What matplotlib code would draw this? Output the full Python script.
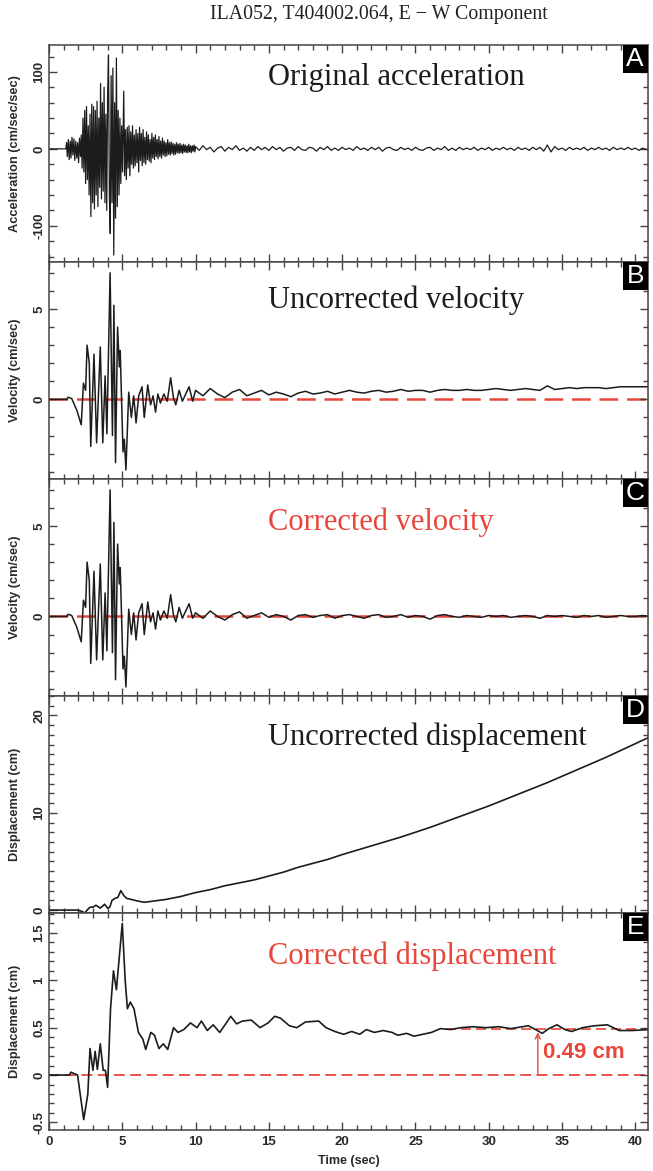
import numpy as np
import matplotlib
matplotlib.use("Agg")
import matplotlib.pyplot as plt
from matplotlib.ticker import MultipleLocator, FuncFormatter
from matplotlib.patches import Rectangle

plt.rcParams['axes.unicode_minus'] = False

# ---------------- data ----------------
title = "ILA052, T404002.064, E \u2212 W Component"
panel_titles = ["Original acceleration", "Uncorrected velocity", "Corrected velocity",
                "Uncorrected displacement", "Corrected displacement"]
panel_letters = ["A", "B", "C", "D", "E"]
ylabels = ["Acceleration (cm/sec/sec)", "Velocity (cm/sec)", "Velocity (cm/sec)",
           "Displacement (cm)", "Displacement (cm)"]
xlabel = "Time (sec)"
offset_label = "0.49 cm"
offset_value = 0.49

# acceleration, strong-motion part (sec, cm/s^2)
acc_t_early = [0, 1.15, 1.2, 1.25, 1.32, 1.38, 1.45, 1.5, 1.57, 1.63, 1.7, 1.76, 1.83, 1.9, 1.96,
               2.02, 2.08, 2.15, 2.2, 2.26, 2.32, 2.38, 2.44, 2.5, 2.56, 2.62, 2.68, 2.74, 2.8,
               2.86, 2.92, 2.98, 3.04, 3.1, 3.16, 3.22, 3.28, 3.34, 3.4, 3.46, 3.52, 3.58, 3.64,
               3.7, 3.76, 3.82, 3.88, 3.94, 4.0, 4.06, 4.12, 4.18, 4.24, 4.3, 4.36, 4.42, 4.48,
               4.54, 4.6, 4.66, 4.72, 4.78, 4.84, 4.9, 4.96, 5.02, 5.1, 5.16, 5.22, 5.28, 5.34,
               5.4, 5.46, 5.52, 5.58, 5.64, 5.7, 5.76, 5.82, 5.88, 5.94, 6.0, 6.06, 6.12, 6.18,
               6.24, 6.3, 6.36, 6.42, 6.48, 6.54, 6.6, 6.66, 6.72, 6.78, 6.84, 6.9, 6.96, 7.02,
               7.08, 7.14, 7.2, 7.26, 7.32, 7.38, 7.44, 7.5, 7.56, 7.62, 7.68, 7.74, 7.8, 7.86,
               7.92, 7.98, 8.04, 8.1, 8.16, 8.22, 8.28, 8.34, 8.4, 8.46, 8.52, 8.58, 8.64, 8.7,
               8.76, 8.82, 8.88, 8.94, 9.0, 9.06, 9.12, 9.18, 9.24, 9.3, 9.36, 9.42, 9.48, 9.54,
               9.6, 9.66, 9.72, 9.78, 9.84, 9.9, 9.96]
acc_early = [0, 0, 8, -10, 12, -14, 10, -12, 15, -8, 13, -15, 10, -12, 8,
             -18, 14, -10, 18, -25, 40, -30, 50, -45, 55, -40, 30, -60, 45,
             -88, 58, -70, 55, -78, 50, -60, 62, -75, 40, -50, 85, -65, 60,
             -55, 80, -70, 45, -80, 70, 122, -60, -110, 95, -70, 105, -138, 60,
             -90, 118, -75, 50, -60, 40, -45, 30, -30, 75, -35, 25, -40, 28,
             -25, 30, -35, 22, -20, 30, -25, 18, -22, 25, -18, 20, -30, 28,
             -15, 20, -22, 25, -18, 15, -20, 22, -14, 18, -16, 12, -18, 20,
             -12, 15, -14, 18, -10, 12, -13, 16, -10, 10, -12, 14, -8, 10,
             -10, 8, -9, 12, -7, 8, -8, 9, -6, 7, -8, 6, -7, 8,
             -5, 6, -6, 7, -5, 5, -6, 6, -4, 5, -5, 4, -5, 6,
             -4, 4, -5, 4, -3, 5, -4]
# acceleration coda, sampled every 0.25 s from 10 s to 41 s
acc_late = [3, -2, 4, -1, 2, -4, 1, 3, -3, 2, -1, 4, -2, 1, -3, 2, -2, 3, -1, 2,
            -2, 3, -1, 2, -3, 1, 2, -2, 3, -1, -2, 2, 1, -3, 2, -1, 3, -2, 1, -2,
            2, -1, 1, -2, 3, -1, 1, -2, 2, -1, 2, -3, 1, 2, -1, -2, 2, -1, 1, -2,
            2, -1, -2, 1, 2, -2, 1, -1, 3, -2, 1, -2, 2, -1, 1, -1, 2, -2, 1, -1,
            2, -2, 1, -1, 2, -1, 1, -2, 2, -1, 1, -2, 2, -1, 2, -3, 5, -4, 3, -1,
            1, -2, 2, -1, 1, -1, 2, -2, 1, -1, 2, -1, 1, -2, 2, -1, 1, -1, 2, -1, 1, -2, 1, -1, 1]

# velocity, strong-motion part shared by uncorrected and corrected (cm/s)
vel_t_early = [0, 1.2, 1.3, 1.55, 1.9, 2.2, 2.35, 2.5, 2.6, 2.75, 2.85, 3.07, 3.25, 3.5, 3.67,
               3.83, 3.95, 4.17, 4.33, 4.43, 4.54, 4.68, 4.8, 4.86, 5.05, 5.14, 5.25, 5.44,
               5.62, 5.78, 5.94, 6.12, 6.35, 6.5, 6.74, 6.93, 7.1, 7.27, 7.43, 7.6, 7.84, 8.07,
               8.3, 8.49, 8.65, 8.88, 9.1, 9.33, 9.56, 9.8]
vel_early = [0, 0, 0.12, 0.05, -0.6, -1.4, 0.9, 0.5, 3.0, 2.0, -2.6, 2.5, -2.4, 2.9, -2.4,
             1.3, -1.9, 7.0, -2.0, 5.2, -3.5, 4.0, 1.8, 2.7, -2.9, -2.2, -3.9, 0.4,
             -1.0, 0.2, -1.3, 0.2, 0.7, -1.0, 0.8, -0.3, 0.2, -0.7, 0.3, -0.2, 0.3, -0.1,
             1.2, 0.1, -0.3, 0.5, -0.1, 0.3, 0.7, -0.1]
# velocity coda, sampled every 0.5 s from 10 s to 41 s
vel_unc_late = [0.5, 0.2, 0.6, 0.3, 0.1, 0.4, 0.55, 0.2, 0.35, 0.5,
                0.25, 0.4, 0.3, 0.15, 0.35, 0.45, 0.3, 0.35, 0.45, 0.3,
                0.4, 0.5, 0.4, 0.35, 0.45, 0.5, 0.4, 0.45, 0.55, 0.45,
                0.5, 0.5, 0.4, 0.5, 0.55, 0.5, 0.5, 0.55, 0.5, 0.5,
                0.55, 0.6, 0.55, 0.5, 0.55, 0.6, 0.55, 0.5, 0.75, 0.55,
                0.6, 0.65, 0.6, 0.65, 0.65, 0.65, 0.6, 0.65, 0.7, 0.7, 0.7, 0.7, 0.7]
vel_cor_late = [0.2, -0.1, 0.3, 0.0, -0.2, 0.1, 0.25, -0.1, 0.05, 0.2,
                -0.05, 0.1, 0.0, -0.2, 0.05, 0.1, -0.05, 0.05, 0.1, -0.1,
                0.05, 0.1, 0.0, -0.1, 0.05, 0.1, -0.05, 0.0, 0.1, -0.05,
                0.05, 0.0, -0.15, 0.05, 0.1, 0.0, -0.05, 0.05, 0.0, -0.05,
                0.05, 0.0, 0.05, -0.05, 0.0, 0.05, 0.0, -0.1, 0.05, 0.0,
                0.05, 0.0, -0.05, 0.05, 0.0, 0.05, -0.05, 0.0, 0.05, 0.0, 0.0, 0.05, 0.0]

# uncorrected displacement (cm)
disp_unc_t = [0, 1.9, 2.2, 2.45, 2.6, 2.8, 3.0, 3.2, 3.5, 3.8, 4.0, 4.15, 4.3, 4.5, 4.7, 4.9,
              5.1, 5.3, 5.6, 6.0, 6.5, 7.0, 7.5, 8.0, 9.0, 10.0, 11.0, 12.0, 13.0, 14.0, 15.0,
              16.0, 17.0, 18.0, 19.0, 20.0, 22.0, 24.0, 26.0, 28.0, 30.0, 32.0, 34.0, 36.0,
              38.0, 40.0, 41.0]
disp_unc = [0, 0, -0.1, -0.3, 0.0, 0.3, 0.3, 0.5, 0.2, 0.6, 0.2, 0.3, 1.0, 1.2, 1.3, 2.0,
            1.5, 1.2, 1.1, 0.95, 0.8, 0.9, 1.0, 1.1, 1.4, 1.8, 2.1, 2.5, 2.8, 3.1, 3.5,
            3.9, 4.4, 4.8, 5.2, 5.7, 6.6, 7.5, 8.5, 9.6, 10.7, 11.9, 13.1, 14.4,
            15.7, 17.1, 17.8]

# corrected displacement (cm)
disp_cor_t = [0, 1.4, 1.5, 1.95, 2.37, 2.65, 2.8, 3.0, 3.15, 3.3,
              3.5, 3.7, 3.85, 4.0, 4.2, 4.4, 4.6, 5.0, 5.2, 5.35,
              5.55, 5.8, 6.1, 6.4, 6.6, 6.95, 7.2, 7.5, 7.8, 8.1,
              8.5, 8.8, 9.2, 9.65, 10.1, 10.4, 10.8, 11.2, 11.65, 12.1,
              12.4, 12.8, 13.2, 13.8, 14.4, 14.95, 15.4, 15.8, 16.4, 16.9,
              17.5, 18.4, 18.9, 19.5, 20.1, 20.65, 21.2, 21.65, 22.2, 22.8,
              23.4, 23.8, 24.4, 24.9, 25.5, 26.1, 26.7, 27.4, 28.1, 28.9,
              29.8, 30.7, 31.5, 32.7, 33.2, 33.65, 34.1, 34.65, 35.2, 35.65,
              36.4, 37.2, 38.1, 38.9, 39.8, 40.9]
disp_cor = [0, 0, 0.03, 0, -0.47, -0.2, 0.28, 0.05, 0.25, 0.06,
            0.33, 0.05, 0.05, -0.13, 0.7, 1.1, 0.9, 1.6, 1.0, 0.7,
            0.77, 0.7, 0.45, 0.38, 0.27, 0.45, 0.42, 0.28, 0.33, 0.27,
            0.5, 0.45, 0.48, 0.55, 0.5, 0.57, 0.47, 0.53, 0.45, 0.55,
            0.62, 0.54, 0.57, 0.58, 0.5, 0.55, 0.62, 0.6, 0.52, 0.5,
            0.56, 0.57, 0.5, 0.46, 0.43, 0.46, 0.43, 0.48, 0.45, 0.47,
            0.45, 0.42, 0.44, 0.41, 0.43, 0.45, 0.49, 0.48, 0.5, 0.51,
            0.5, 0.51, 0.49, 0.52, 0.48, 0.44, 0.49, 0.53, 0.48, 0.46,
            0.5, 0.52, 0.53, 0.47, 0.47, 0.48]
offset_line_start = 27.1
arrow_time = 33.35

# ---------------- assemble series ----------------
acc_t = np.concatenate([acc_t_early, np.arange(len(acc_late)) * 0.25 + 10.0])
acc = np.concatenate([acc_early, acc_late])
vel_t = np.concatenate([vel_t_early, np.arange(len(vel_unc_late)) * 0.5 + 10.0])
vel_unc = np.concatenate([vel_early, vel_unc_late])
vel_cor = np.concatenate([vel_early, vel_cor_late])

# ---------------- figure ----------------
RED = "#e8463a"
INK = "#1c1c1c"
SPINE = "#444444"
LAB = "#2a2a2a"

fig = plt.figure(figsize=(6.53, 11.71), dpi=100)
gs = fig.add_gridspec(5, 1, left=0.075, right=0.992, top=0.9616, bottom=0.035, hspace=0)
axes = [fig.add_subplot(gs[i]) for i in range(5)]

ylims = [(-147, 135), (-4.4, 7.6), (-4.4, 7.6), (-0.3, 22), (-0.58, 1.71)]
ymaj = [100, 5, 5, 10, 0.5]
ymin = [20, 1, 1, 1, 0.1]
title_y = [0.85, 0.825, 0.80, 0.81, 0.80]
title_colors = [INK, INK, RED, INK, RED]

fmt = FuncFormatter(lambda v, p: "%g" % round(v, 3))

series = [(acc_t, acc, 0.9), (vel_t, vel_unc, 1.1), (vel_t, vel_cor, 1.1),
          (disp_unc_t, disp_unc, 1.2), (disp_cor_t, disp_cor, 1.2)]

for i, ax in enumerate(axes):
    if i in (1, 2):
        ax.axhline(0, color=RED, lw=1.8, ls=(0, (7.5, 3.5)), zorder=1)
    if i == 4:
        ax.axhline(0, color=RED, lw=1.3, ls=(0, (6, 3)), zorder=1)
    t, y, lw = series[i]
    ax.plot(t, y, color=INK, lw=lw, zorder=2)
    ax.set_xlim(0, 40.85)
    ax.set_ylim(*ylims[i])
    ax.xaxis.set_major_locator(MultipleLocator(5))
    ax.xaxis.set_minor_locator(MultipleLocator(1))
    ax.yaxis.set_major_locator(MultipleLocator(ymaj[i]))
    ax.yaxis.set_minor_locator(MultipleLocator(ymin[i]))
    ax.yaxis.set_major_formatter(fmt)
    ax.tick_params(which="both", direction="in", top=True, right=True, color=SPINE, width=1.0)
    ax.tick_params(which="major", length=6)
    ax.tick_params(which="minor", length=3.5)
    ax.tick_params(axis="y", labelsize=9.5, labelcolor=LAB, pad=2.5)
    for lab in ax.get_yticklabels():
        lab.set_rotation(90)
        lab.set_va("center")
        lab.set_fontweight("bold")
        lab.set_family("Liberation Sans")
    if i < 4:
        ax.tick_params(axis="x", labelbottom=False)
    for s in ax.spines.values():
        s.set_color(SPINE)
        s.set_linewidth(1.1)
    ax.set_ylabel(ylabels[i], fontsize=9.2, fontweight="bold", family="Liberation Sans",
                  color=LAB)
    ax.yaxis.set_label_coords(-0.047, 0.5)
    ax.text(0.366, title_y[i], panel_titles[i], transform=ax.transAxes, ha="left", va="center",
            fontsize=22, family="Liberation Serif", color=title_colors[i])
    bw, bh = 0.042, 0.13
    ax.add_patch(Rectangle((1 - bw, 1 - bh), bw, bh, transform=ax.transAxes,
                           facecolor="black", edgecolor="none", zorder=5, clip_on=False))
    ax.text(1 - bw / 2, 1 - bh / 2, panel_letters[i], transform=ax.transAxes, ha="center",
            va="center", fontsize=19, color="white", family="Liberation Sans", zorder=6)

axE = axes[4]
axE.tick_params(axis="x", labelsize=9.5, labelcolor=LAB, pad=4)
for lab in axE.get_xticklabels():
    lab.set_fontweight("bold")
    lab.set_family("Liberation Sans")
axE.set_xlabel(xlabel, fontsize=9, fontweight="bold", family="Liberation Sans", color=LAB,
               labelpad=5)
axE.hlines(offset_value, offset_line_start, 40.85, color=RED, lw=1.2, ls=(0, (6, 3)), zorder=1)
axE.annotate("", xy=(arrow_time, offset_value - 0.04), xytext=(arrow_time, 0),
             arrowprops=dict(arrowstyle="->", color=RED, lw=1.0, shrinkA=0, shrinkB=0,
                             mutation_scale=9), zorder=3)
axE.text(arrow_time + 0.35, 0.24, offset_label, color=RED, fontsize=16, fontweight="bold",
         family="Liberation Sans", ha="left", va="center")

fig.text(379 / 653, 1 - 15 / 1171, title, ha="center", va="center", fontsize=14.3,
         family="Liberation Serif", color="#222222")

fig.savefig("out.png", dpi=100, facecolor="white")
